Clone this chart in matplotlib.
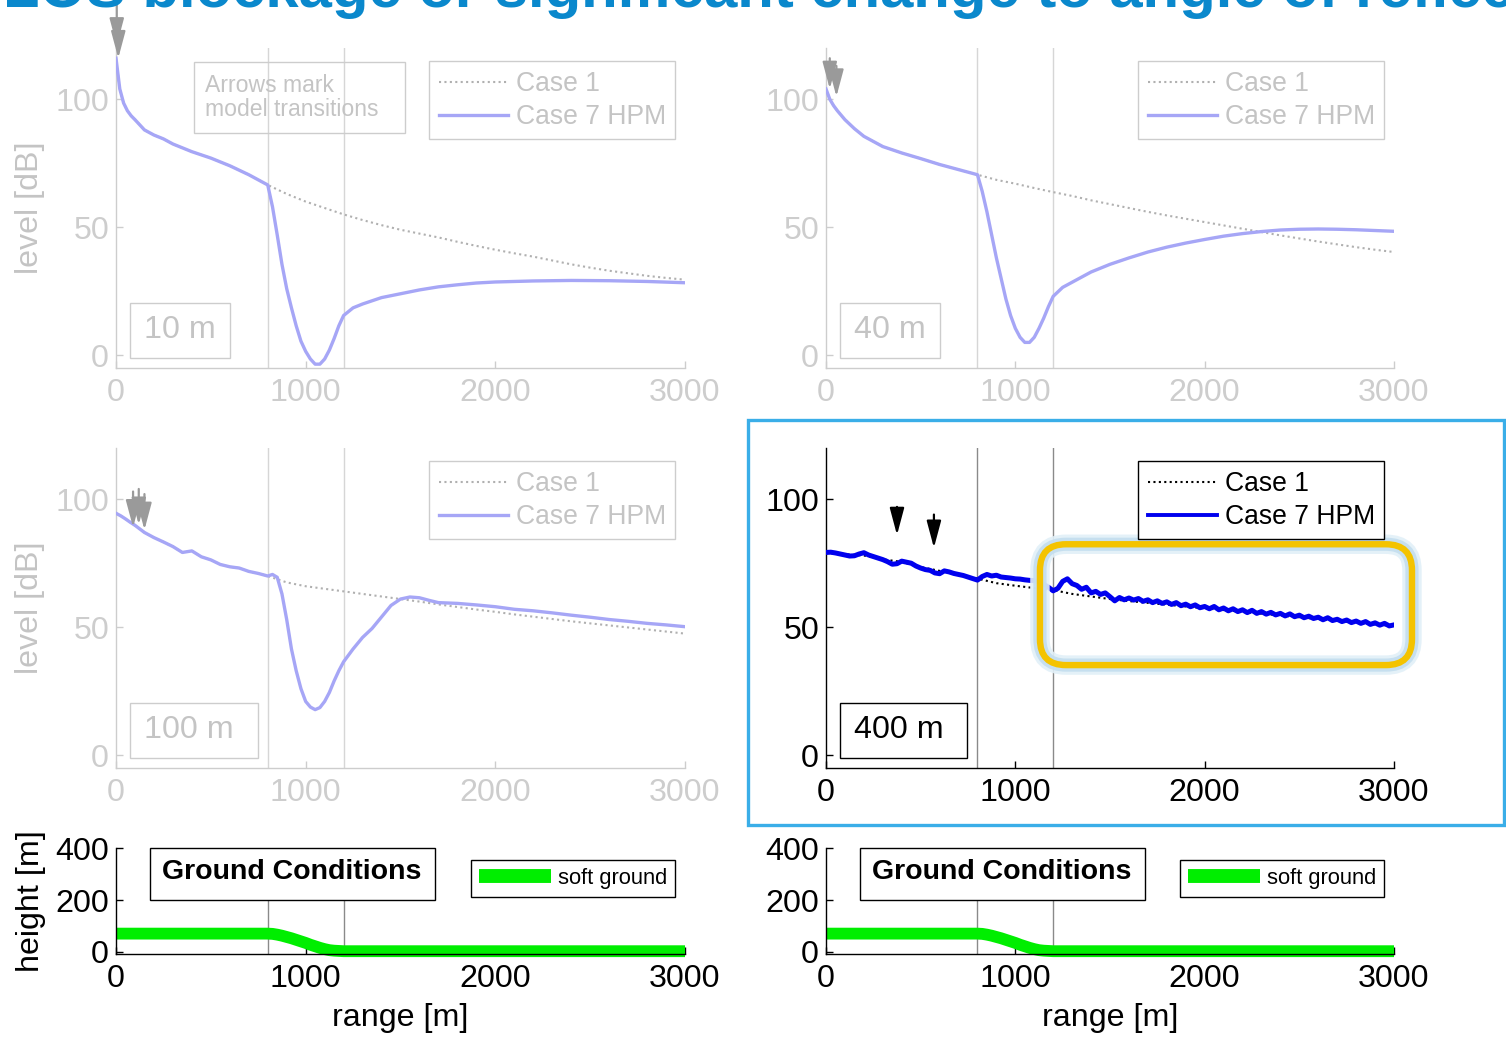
import matplotlib
matplotlib.use("Agg")
import matplotlib.pyplot as plt
from matplotlib import font_manager
from matplotlib.patches import Rectangle, FancyBboxPatch
from matplotlib.transforms import IdentityTransform

# ---------------------------------------------------------------- data
transitions = [800, 1200]

# 10 m source height
rng_10_c1 = [0, 10, 20, 40, 60, 80, 100, 150, 200, 250, 300, 400, 500, 600, 700,
             800, 900, 1000, 1100, 1200, 1300, 1400, 1500, 1600, 1700, 1800,
             1900, 2000, 2100, 2200, 2300, 2400, 2500, 2600, 2700, 2800, 2900,
             3000]
lvl_10_c1 = [116, 110, 104, 98.5, 95.5, 93.5, 92, 88, 86, 84.5, 82.5, 79.5, 77,
             74, 70.5, 66.5, 63, 60, 57.5, 55, 52.8, 50.8, 49, 47.5, 46, 44.3,
             42.7, 41.2, 39.8, 38.5, 37, 35.5, 34.2, 33, 32, 31, 30.2, 29.5]
rng_10_c7 = [0, 10, 20, 40, 60, 80, 100, 150, 200, 250, 300, 400, 500, 600, 700,
             800, 825, 850, 875, 900, 925, 950, 975, 1000, 1025, 1050, 1075,
             1100, 1125, 1150, 1175, 1200, 1250, 1300, 1400, 1500, 1600, 1700,
             1800, 1900, 2000, 2200, 2400, 2600, 2800, 3000]
lvl_10_c7 = [116, 110, 104, 98.5, 95.5, 93.5, 92, 88, 86, 84.5, 82.5, 79.5, 77,
             74, 70.5, 66.5, 58, 47, 35.5, 26, 18.5, 11.5, 5.5, 1.5, -1.5, -3.5,
             -3.5, -1.5, 2, 6.5, 11.5, 15.5, 18.5, 20, 22.5, 24, 25.5, 26.7,
             27.5, 28.2, 28.6, 29, 29.2, 29.1, 28.8, 28.3]

# 40 m source height
rng_40_c1 = [0, 20, 40, 60, 100, 150, 200, 300, 400, 500, 600, 700, 800, 900,
             1000, 1100, 1200, 1300, 1400, 1500, 1600, 1700, 1800, 1900, 2000,
             2100, 2200, 2300, 2400, 2500, 2600, 2700, 2800, 2900, 3000]
lvl_40_c1 = [104, 100, 97.5, 95.5, 92, 88.5, 85.5, 81.5, 79, 76.8, 74.5, 72.5,
             70.5, 68.5, 67, 65.3, 63.7, 62.2, 60.5, 59, 57.5, 56, 54.6, 53.3,
             52, 50.7, 49.4, 48.1, 46.8, 45.6, 44.4, 43.3, 42.2, 41.2, 40.3]
rng_40_c7 = [0, 20, 40, 60, 100, 150, 200, 300, 400, 500, 600, 700, 800, 825,
             850, 875, 900, 925, 950, 975, 1000, 1025, 1050, 1075, 1100, 1125,
             1150, 1175, 1200, 1250, 1300, 1400, 1500, 1600, 1700, 1800, 1900,
             2000, 2100, 2200, 2300, 2400, 2500, 2600, 2700, 2800, 2900, 3000]
lvl_40_c7 = [104, 100, 97.5, 95.5, 92, 88.5, 85.5, 81.5, 79, 76.8, 74.5, 72.5,
             70.5, 64, 56, 47, 38, 30, 22, 15.5, 10.5, 7, 5, 5, 7, 10.5, 14.5,
             19, 23, 26.5, 28.5, 32.5, 35.5, 38, 40.3, 42.2, 43.8, 45.2, 46.5,
             47.5, 48.3, 48.9, 49.2, 49.3, 49.2, 49, 48.7, 48.4]

# 100 m source height
rng_100_c1 = [0, 25, 50, 75, 100, 150, 200, 250, 300, 350, 400, 450, 500, 550,
              600, 650, 700, 750, 800, 900, 1000, 1100, 1200, 1300, 1400, 1500,
              1600, 1700, 1800, 1900, 2000, 2100, 2200, 2300, 2400, 2500, 2600,
              2700, 2800, 2900, 3000]
lvl_100_c1 = [94.5, 93.5, 92.3, 91, 89.8, 87, 85, 83.3, 81.5, 79.2, 79.8, 77.5,
              76.3, 74.5, 73.6, 73.1, 71.8, 71, 70, 67.5, 66, 65, 64, 63, 62,
              61, 60, 58.9, 57.9, 56.9, 56, 55, 54.1, 53.2, 52.3, 51.5, 50.7,
              49.9, 49.1, 48.3, 47.5]
rng_100_c7 = [0, 25, 50, 75, 100, 150, 200, 250, 300, 350, 400, 450, 500, 550,
              600, 650, 700, 750, 800, 825, 850, 875, 900, 925, 950, 975, 1000,
              1025, 1050, 1075, 1100, 1125, 1150, 1175, 1200, 1250, 1300, 1350,
              1400, 1450, 1500, 1550, 1600, 1650, 1700, 1800, 1900, 2000, 2100,
              2200, 2300, 2400, 2500, 2600, 2700, 2800, 2900, 3000]
lvl_100_c7 = [94.5, 93.5, 92.3, 91, 89.8, 87, 85, 83.3, 81.5, 79.2, 79.8, 77.5,
              76.3, 74.5, 73.6, 73.1, 71.8, 71, 70, 70.6, 69.5, 63, 53, 41.5,
              33, 26, 21, 18.8, 17.8, 18.6, 21, 24.5, 29, 33, 36.5, 41.5, 46,
              49.5, 54, 58.5, 61, 61.8, 61.5, 60.5, 59.6, 59.3, 58.7, 58, 57,
              56.4, 55.6, 54.7, 53.9, 53, 52.3, 51.5, 50.9, 50.2]

# 400 m source height
rng_400_c1 = [0, 100, 200, 300, 400, 500, 600, 700, 800, 900, 1000, 1100, 1200,
              1300, 1400, 1500, 1600, 1700, 1800, 1900, 2000, 2100, 2200, 2300,
              2400, 2500, 2600, 2700, 2800, 2900, 3000]
lvl_400_c1 = [79, 78.5, 78, 76.5, 75.5, 73.5, 72, 70.5, 69, 67.2, 66.2, 65.3,
              64.5, 63, 62, 61, 60.2, 59.5, 58.8, 58.1, 57.4, 56.7, 56, 55.3,
              54.6, 53.9, 53.2, 52.5, 51.8, 51.1, 50.5]
rng_400_c7 = list(range(0, 3001, 25))
lvl_400_c7 = [79.2, 79.3, 79.0, 78.6, 78.2, 77.8, 77.9, 78.6, 79.1,
              78.2, 77.6, 77.0, 76.4, 75.6, 74.6, 74.8, 75.8,
              75.4, 75.0, 73.9, 73.1, 72.5, 72.2, 71.2, 70.9,
              72.0, 71.6, 71.0, 70.6, 70.2, 69.6, 69.0, 68.4,
              69.8, 70.6, 70.0, 70.3, 69.6, 69.4, 69.2, 68.9,
              68.8, 68.5, 68.3, 68.2, 67.6, 66.8, 65.6, 64.2,
              65.2, 67.9, 68.9, 67.0, 66.3, 64.8, 65.6, 63.4,
              64.0, 62.8, 63.4, 61.9, 60.3, 61.6, 60.7, 61.4,
              60.6, 61.2, 60.1, 60.7, 59.6, 60.3, 59.3, 59.9,
              58.9, 59.6, 58.4, 59.0, 58.0, 58.7, 57.6, 58.1,
              57.2, 58.1, 56.8, 57.5, 56.4, 57.2, 56.1, 56.8,
              55.7, 56.6, 55.4, 56.1, 55.1, 55.8, 54.8, 55.4,
              54.4, 55.2, 54.1, 54.7, 53.7, 54.3, 53.4, 53.9,
              52.9, 53.7, 52.6, 53.1, 52.2, 52.8, 51.8, 52.4,
              51.5, 52.2, 51.1, 51.7, 50.8, 51.5, 50.5, 50.9]

# model transition arrows: (range, start level, tip level)
arrows_10 = [(4, 137, 121), (12, 131, 116)]
arrows_40 = [(20, 116, 104), (55, 113, 101)]
arrows_100 = [(90, 103, 89), (120, 104, 90), (150, 102, 88)]
arrows_400 = [(375, 97, 86), (570, 94, 81)]

# terrain profile
terrain_range = [0, 800, 825, 850, 875, 900, 925, 950, 975, 1000, 1025, 1050,
                 1075, 1100, 1125, 1150, 1175, 1200, 3000]
terrain_height = [70, 70, 69, 66, 62, 57, 52, 46, 40, 34, 27, 21, 15, 10, 6,
                  4, 3, 2, 2]

x_ticks = [0, 1000, 2000, 3000]
level_ticks = [0, 50, 100]
height_ticks = [0, 200, 400]

# ---------------------------------------------------------------- style
names = {f.name for f in font_manager.fontManager.ttflist}
if "Liberation Sans Narrow" in names:
    NARROW, K = "Liberation Sans Narrow", 1.0
else:
    NARROW, K = "Liberation Sans", 0.83

plt.rcParams["font.family"] = [NARROW, "DejaVu Sans"]

GHOST_TXT = "#c4c4c4"
GHOST_AX = "#cdcdcd"
GHOST_BLUE = "#a6a6f6"
GHOST_DOT = "#b0b0b0"

W, H = 1506, 1040
fig = plt.figure(figsize=(W / 100, H / 100), dpi=100)


def frac_rect(left, top, right, bottom):
    return [left / W, 1 - bottom / H, (right - left) / W, (bottom - top) / H]


def style_axes(ax, color, ylim, yticks):
    ax.set_xlim(0, 3000)
    ax.set_ylim(*ylim)
    ax.set_xticks(x_ticks)
    ax.set_yticks(yticks)
    for s in ("top", "right"):
        ax.spines[s].set_visible(False)
    for s in ("left", "bottom"):
        ax.spines[s].set_color(color)
        ax.spines[s].set_linewidth(1.0)
    ax.tick_params(direction="in", length=5, width=1, colors=color,
                   labelsize=28 * K)
    ax.tick_params(axis="x", pad=7)
    ax.tick_params(axis="y", pad=5)
    ax.patch.set_alpha(0)


def level_panel(rect, r1, l1, r7, l7, label, box_w, arrows, ghost, ylabel):
    ax = fig.add_axes(rect)
    txt = GHOST_TXT if ghost else "black"
    axc = GHOST_AX if ghost else "black"
    vcol = "#d6d6d6" if ghost else "#8a8a8a"
    for t in transitions:
        ax.axvline(t, color=vcol, lw=1.0, zorder=1)
    ax.plot(r1, l1, ls=(0, (1, 1.6)), color=GHOST_DOT if ghost else "black",
            lw=1.5, label="Case 1", zorder=2)
    ax.plot(r7, l7, color=GHOST_BLUE if ghost else "#0000ee",
            lw=2.4 if ghost else 3.6, label="Case 7 HPM", zorder=3)
    style_axes(ax, axc, (-5, 120), level_ticks)
    if ylabel:
        ax.set_ylabel("level [dB]", fontsize=28 * K, color=txt)
        ax.yaxis.set_label_coords(-0.125, 0.5)

    leg = ax.legend(loc="upper right", bbox_to_anchor=(0.983, 0.958),
                    fontsize=23 * K, handlelength=2.6, handletextpad=0.3,
                    borderpad=0.36, labelspacing=0.26, borderaxespad=0,
                    fancybox=False, framealpha=1, edgecolor=axc,
                    labelcolor=txt)
    leg.get_frame().set_linewidth(1.0)
    leg.legend_handles[1].set_linewidth(2.4 if ghost else 2.8)

    # source-height label box
    ax.add_patch(Rectangle((0.0246, 0.031), box_w, 0.172,
                           transform=ax.transAxes, fill=False, ec=axc,
                           lw=1.0, clip_on=False))
    ax.text(0.049, 0.119, label, transform=ax.transAxes, fontsize=28 * K,
            color=txt, va="center", ha="left")

    for x, y0, y1 in arrows:
        ax.annotate("", xy=(x, y1), xytext=(x, y0), annotation_clip=False,
                    arrowprops=dict(arrowstyle="-|>,head_length=0.75,head_width=0.2",
                                    color="#9a9a9a" if ghost else "black",
                                    lw=1.6, mutation_scale=22,
                                    shrinkA=0, shrinkB=0))
    return ax


ax1 = level_panel(frac_rect(116, 48, 685, 368), rng_10_c1, lvl_10_c1,
                  rng_10_c7, lvl_10_c7, "10 m", 0.176, arrows_10, True, True)
ax1.add_patch(Rectangle((0.137, 0.734), 0.371, 0.222, transform=ax1.transAxes,
                        fill=False, ec=GHOST_AX, lw=1.0, clip_on=False))
ax1.text(0.156, 0.845, "Arrows mark\nmodel transitions", transform=ax1.transAxes,
         fontsize=20 * K, color=GHOST_TXT, va="center", ha="left",
         linespacing=1.05)

ax2 = level_panel(frac_rect(826, 48, 1394, 368), rng_40_c1, lvl_40_c1,
                  rng_40_c7, lvl_40_c7, "40 m", 0.176, arrows_40, True, False)
ax3 = level_panel(frac_rect(116, 448, 685, 768), rng_100_c1, lvl_100_c1,
                  rng_100_c7, lvl_100_c7, "100 m", 0.225, arrows_100, True, True)
ax4 = level_panel(frac_rect(826, 448, 1394, 768), rng_400_c1, lvl_400_c1,
                  rng_400_c7, lvl_400_c7, "400 m", 0.2235, arrows_400, False,
                  False)

# highlighted region with a soft halo
(px0, py0) = ax4.transData.transform((1130, 35.2))
(px1, py1) = ax4.transData.transform((3095, 82.4))
for lw, col, a in [(14, "#e2f0f8", 0.9), (9.5, "#c3deef", 0.9),
                   (4.6, "#f4c300", 1)]:
    ax4.add_artist(FancyBboxPatch((px0, py0), px1 - px0, py1 - py0,
                                  boxstyle="round,pad=0,rounding_size=26",
                                  transform=IdentityTransform(), fill=False,
                                  ec=col, lw=lw, alpha=a, clip_on=False,
                                  zorder=4))

# frame around the highlighted panel
fig.add_artist(Rectangle((748 / W, 1 - 825 / H), 756 / W, 405 / H,
                         transform=fig.transFigure, fill=False, ec="#3aaee8",
                         lw=2.4))


def ground_panel(rect, ylabel):
    ax = fig.add_axes(rect)
    for t in transitions:
        ax.axvline(t, color="#8a8a8a", lw=1.0, zorder=1)
    ax.plot(terrain_range, terrain_height, color="#00ee00", lw=8.5,
            solid_capstyle="butt", label="soft ground", clip_on=False, zorder=2)
    style_axes(ax, "black", (-10, 400), height_ticks)
    ax.set_xlabel("range [m]", fontsize=28 * K)
    ax.xaxis.set_label_coords(0.5, -0.46)
    if ylabel:
        ax.set_ylabel("height [m]", fontsize=28 * K)
        ax.yaxis.set_label_coords(-0.123, 0.5)
    ax.add_patch(Rectangle((0.06, 0.512), 0.501, 0.491, transform=ax.transAxes,
                           fc="white", ec="black", lw=1.0, clip_on=False,
                           zorder=5))
    ax.text(0.309, 0.78, "Ground Conditions", transform=ax.transAxes,
            fontsize=20.5, fontweight="bold", family="Liberation Sans",
            ha="center", va="center", zorder=6)
    leg = ax.legend(loc="upper right", bbox_to_anchor=(0.982, 0.89),
                    fontsize=19 * K, handlelength=3.3, handletextpad=0.3,
                    borderpad=0.36, borderaxespad=0, fancybox=False,
                    framealpha=1, edgecolor="black")
    leg.get_frame().set_linewidth(1.0)
    leg.legend_handles[0].set_linewidth(10)
    return ax


ground_panel(frac_rect(116, 848.3, 685, 954.3), True)
ground_panel(frac_rect(826, 848.3, 1394, 954.3), False)

# slide heading running off the top edge
fig.text(3 / W, 1 - 7 / H,
         "LOS blockage or significant change to angle of reflection",
         fontsize=43, fontweight="bold", family="Liberation Sans",
         color="#0a88cc", ha="left", va="baseline")

fig.savefig("out.png", dpi=100)
